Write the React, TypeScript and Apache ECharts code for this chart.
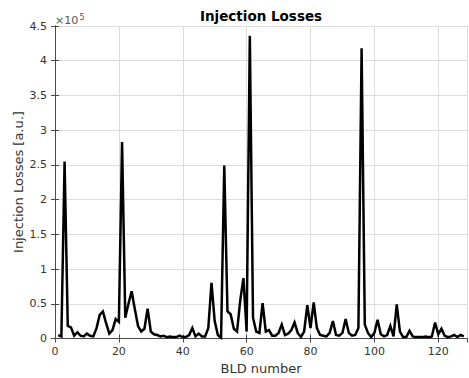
import React, { useEffect, useRef } from "react";
import * as echarts from "echarts";

// Injection losses per BLD (a.u.)
const injectionLosses = [
  5000, 3000, 255000, 18000, 16000, 4000, 9000, 4000, 3000, 7000,
  4000, 3000, 15000, 34000, 39000, 22000, 7000, 12000, 28000, 24000,
  283000, 30000, 50000, 68000, 42000, 18000, 10000, 14000, 43000, 10000,
  6000, 5000, 3000, 4000, 2000, 3000, 2000, 2000, 4000, 2000,
  2000, 5000, 15000, 3000, 7000, 3000, 3000, 15000, 80000, 25000,
  5000, 1000, 249000, 39000, 35000, 14000, 10000, 55000, 87000, 10000,
  436000, 30000, 10000, 8000, 51000, 10000, 12000, 4000, 4000, 8000,
  20000, 5000, 7000, 12000, 23000, 8000, 2000, 10000, 48000, 15000,
  52000, 15000, 5000, 4000, 3000, 8000, 25000, 5000, 4000, 8000,
  28000, 8000, 4000, 5000, 15000, 418000, 20000, 8000, 2000, 8000,
  27000, 6000, 3000, 5000, 18000, 3000, 49000, 10000, 2000, 2000,
  11000, 3000, 2000, 2000, 2000, 3000, 2000, 3000, 23000, 6000,
  14000, 4000, 2000, 3000, 5000, 2000, 5000, 3000,
];
const bldNumbers = injectionLosses.map((_, i) => i + 1);

const X_MIN = 0;
const X_MAX = 129;
const X_INTERVAL = 20;
const Y_MIN = 0;
const Y_MAX = 450000;
const Y_INTERVAL = 50000;
const Y_SCALE = 100000;

const titleText = "Injection Losses";
const xLabelText = "BLD number";
const yLabelText = "Injection Losses [a.u.]";

const FONT = '"DejaVu Sans", "Liberation Sans", sans-serif';
const AXIS_COLOR = "#4a4a4a";
const GRID_COLOR = "#dcdcdc";
const TEXT_COLOR = "#333333";

export default function App() {
  const ref = useRef<HTMLDivElement>(null);

  useEffect(() => {
    if (!ref.current) return;
    const chart = echarts.init(ref.current, undefined, { renderer: "svg" });

    const axisLine = { show: true, lineStyle: { color: AXIS_COLOR, width: 1 } };
    const axisTick = { show: true, inside: true, length: 4, lineStyle: { color: AXIS_COLOR, width: 1 } };

    const option: any = {
      animation: false,
      backgroundColor: "#ffffff",
      grid: { left: 55, top: 26, width: 412, height: 312.5, containLabel: false },
      xAxis: [
        {
          type: "value",
          min: X_MIN,
          max: X_MAX,
          interval: X_INTERVAL,
          position: "bottom",
          axisLine,
          axisTick,
          axisLabel: {
            color: TEXT_COLOR,
            fontFamily: FONT,
            fontSize: 11,
            margin: 7,
            showMaxLabel: false,
          },
          splitLine: { show: true, lineStyle: { color: GRID_COLOR, width: 1 } },
        },
        {
          type: "value",
          min: X_MIN,
          max: X_MAX,
          interval: X_INTERVAL,
          position: "top",
          axisLine,
          axisTick,
          axisLabel: { show: false },
          splitLine: { show: false },
        },
      ],
      yAxis: [
        {
          type: "value",
          min: Y_MIN,
          max: Y_MAX,
          interval: Y_INTERVAL,
          position: "left",
          axisLine,
          axisTick,
          axisLabel: {
            color: TEXT_COLOR,
            fontFamily: FONT,
            fontSize: 11,
            margin: 8,
            formatter: (v: number) => String(Number((v / Y_SCALE).toFixed(1))),
          },
          splitLine: { show: true, lineStyle: { color: GRID_COLOR, width: 1 } },
        },
        {
          type: "value",
          min: Y_MIN,
          max: Y_MAX,
          interval: Y_INTERVAL,
          position: "right",
          axisLine,
          axisTick,
          axisLabel: { show: false },
          splitLine: { show: false },
        },
      ],
      series: [
        {
          type: "line",
          xAxisIndex: 0,
          yAxisIndex: 0,
          data: bldNumbers.map((x, i) => [x, injectionLosses[i]]),
          showSymbol: false,
          symbol: "none",
          lineStyle: { color: "#000000", width: 2.5, join: "miter" },
          emphasis: { disabled: true },
        },
      ],
      graphic: [
        {
          type: "text",
          x: 261,
          y: 16,
          style: {
            text: titleText,
            font: `bold 13.5px ${FONT}`,
            fill: "#000000",
            textAlign: "center",
            textVerticalAlign: "middle",
          },
        },
        {
          type: "text",
          x: 55,
          y: 26,
          style: {
            text: "×10",
            font: `11px ${FONT}`,
            fill: "#555555",
            textAlign: "left",
            textVerticalAlign: "bottom",
          },
        },
        {
          type: "text",
          x: 79.5,
          y: 21,
          style: {
            text: "5",
            font: `8px ${FONT}`,
            fill: "#555555",
            textAlign: "left",
            textVerticalAlign: "bottom",
          },
        },
        {
          type: "text",
          x: 261,
          y: 368,
          style: {
            text: xLabelText,
            font: `13px ${FONT}`,
            fill: TEXT_COLOR,
            textAlign: "center",
            textVerticalAlign: "middle",
          },
        },
        {
          type: "text",
          x: 18,
          y: 182,
          rotation: Math.PI / 2,
          style: {
            text: yLabelText,
            font: `13px ${FONT}`,
            fill: TEXT_COLOR,
            textAlign: "center",
            textVerticalAlign: "middle",
          },
        },
      ],
    };

    chart.setOption(option);
    return () => {
      chart.dispose();
    };
  }, []);

  return (
    <div
      ref={ref}
      style={{ position: "fixed", left: 0, top: 0, width: 469, height: 378 }}
    />
  );
}
